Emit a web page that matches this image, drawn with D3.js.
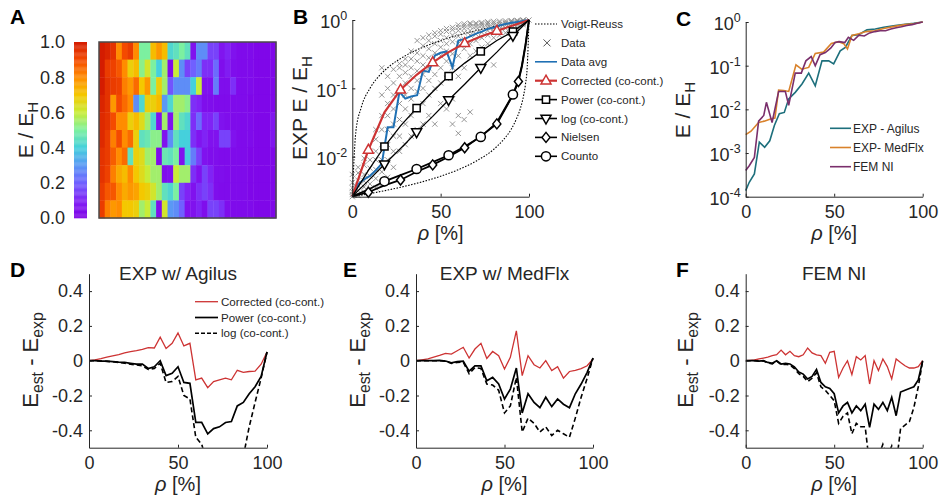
<!DOCTYPE html>
<html>
<head>
<meta charset="utf-8">
<script src="https://cdn.jsdelivr.net/npm/d3@7"></script>
<style>
  body { margin: 0; background: #fff; }
  svg text { font-family: "Liberation Sans", Arial, sans-serif; fill: #262626; }
</style>
</head>
<body>
<script>
// ---------- data ----------
var rhoCols = [0, 3.3, 6.7, 10, 13.3, 16.7, 20, 23.3, 26.7, 30, 33.3, 36.7, 40, 43.3, 46.7, 50,
  53.3, 56.7, 60, 63.3, 66.7, 70, 73.3, 76.7, 80, 83.3, 86.7, 90, 93.3, 96.7, 100];

// A: E / E_H per sample (rows) and column
var heat = [
  [1.0,0.98,0.95,0.8,0.9,0.93,0.8,0.5,0.5,0.72,0.78,0.72,0.42,0.45,0.5,0.45,0.05,0.28,0.28,0.15,0.15,0.06,0.1,0.05,0.03,0.03,0.03,0.02,0.02,0.02,0.02],
  [1.0,0.93,0.92,0.88,0.8,0.68,0.72,0.52,0.62,0.5,0.4,0.55,0.03,0.6,0.28,0.15,0.2,0.25,0.12,0.12,0.22,0.04,0.08,0.04,0.03,0.03,0.03,0.02,0.02,0.02,0.02],
  [1.0,0.95,0.93,0.92,0.82,0.78,0.85,0.7,0.78,0.5,0.68,0.55,0.18,0.28,0.28,0.28,0.4,0.6,0.05,0.05,0.25,0.04,0.04,0.12,0.03,0.03,0.03,0.02,0.02,0.02,0.02],
  [0.98,0.95,0.78,0.9,0.85,0.8,0.28,0.42,0.68,0.68,0.72,0.3,0.42,0.55,0.55,0.52,0.12,0.1,0.04,0.04,0.03,0.03,0.03,0.03,0.03,0.03,0.02,0.02,0.02,0.02,0.02],
  [0.97,0.95,0.9,0.8,0.8,0.68,0.72,0.65,0.55,0.42,0.05,0.55,0.05,0.55,0.45,0.42,0.12,0.22,0.1,0.1,0.15,0.05,0.04,0.03,0.03,0.03,0.03,0.02,0.02,0.02,0.06],
  [0.97,0.93,0.82,0.9,0.8,0.85,0.68,0.45,0.47,0.52,0.52,0.05,0.28,0.45,0.4,0.4,0.12,0.06,0.1,0.05,0.05,0.15,0.15,0.05,0.03,0.03,0.03,0.02,0.02,0.02,0.06],
  [0.95,0.93,0.87,0.8,0.85,0.45,0.68,0.65,0.55,0.55,0.03,0.47,0.45,0.5,0.05,0.4,0.25,0.15,0.05,0.04,0.04,0.03,0.03,0.03,0.03,0.03,0.02,0.02,0.02,0.02,0.02],
  [0.95,0.92,0.82,0.75,0.72,0.8,0.7,0.65,0.6,0.55,0.55,0.04,0.05,0.6,0.55,0.55,0.12,0.05,0.15,0.1,0.04,0.04,0.03,0.03,0.03,0.03,0.02,0.02,0.02,0.02,0.02],
  [0.93,0.88,0.88,0.8,0.75,0.78,0.76,0.7,0.68,0.62,0.55,0.45,0.42,0.5,0.15,0.1,0.05,0.12,0.15,0.12,0.04,0.03,0.03,0.03,0.03,0.03,0.02,0.02,0.02,0.02,0.02],
  [0.93,0.82,0.78,0.8,0.7,0.7,0.68,0.55,0.6,0.45,0.04,0.62,0.3,0.28,0.2,0.05,0.05,0.1,0.04,0.15,0.15,0.12,0.04,0.03,0.03,0.03,0.03,0.02,0.02,0.02,0.02]
];
var heatTicks = [0, 0.2, 0.4, 0.6, 0.8, 1.0];
var cmapStops = [0, 0.1, 0.2, 0.3, 0.4, 0.5, 0.6, 0.7, 0.8, 0.9, 1.0];
var cmapColors = ['#7f00e6', '#8023f5', '#7060ff', '#5a98f5', '#45d0dc', '#7cf0a0', '#c8ec38', '#f4c800', '#ff8c00', '#f44a00', '#d41c00'];

// B: measured samples (one list per rho), average, models, bounds
var dataE = [
  [0.0026,0.0028,0.0031,0.0035,0.0042,0.0055],
  [0.0027,0.0032,0.0038,0.0045,0.0058,0.007],
  [0.003,0.0036,0.0044,0.0055,0.0075,0.0095],
  [0.0032,0.004,0.0052,0.0068,0.009,0.012],
  [0.0035,0.0048,0.0065,0.009,0.012,0.018,0.025],
  [0.004,0.006,0.009,0.015,0.025,0.04,0.08,0.2],
  [0.005,0.009,0.015,0.025,0.04,0.06,0.1,0.15],
  [0.007,0.012,0.02,0.03,0.05,0.08,0.12,0.19],
  [0.012,0.02,0.035,0.06,0.09,0.15,0.2,0.23],
  [0.015,0.03,0.05,0.08,0.12,0.17,0.22,0.27],
  [0.02,0.04,0.07,0.1,0.15,0.2,0.27,0.35],
  [0.025,0.05,0.09,0.13,0.18,0.25,0.33,0.5],
  [0.03,0.06,0.1,0.16,0.22,0.3,0.42,0.55],
  [0.04,0.08,0.13,0.2,0.28,0.38,0.5,0.6],
  [0.03,0.1,0.16,0.24,0.33,0.45,0.58,0.65],
  [0.06,0.12,0.2,0.3,0.4,0.5,0.62,0.7],
  [0.05,0.14,0.25,0.35,0.45,0.55,0.68,0.75],
  [0.03,0.07,0.2,0.32,0.48,0.6,0.72,0.78],
  [0.022,0.04,0.15,0.3,0.45,0.58,0.7,0.78,0.85],
  [0.035,0.2,0.38,0.52,0.65,0.75,0.82,0.88],
  [0.045,0.3,0.45,0.6,0.7,0.8,0.86,0.9],
  [0.35,0.5,0.62,0.72,0.8,0.86,0.9],
  [0.4,0.55,0.66,0.75,0.83,0.88,0.92],
  [0.45,0.6,0.7,0.78,0.85,0.9,0.94],
  [0.22,0.55,0.68,0.76,0.84,0.9,0.95],
  [0.6,0.72,0.8,0.86,0.91,0.96],
  [0.65,0.76,0.84,0.89,0.93,0.97],
  [0.72,0.8,0.87,0.92,0.95,0.98],
  [0.78,0.85,0.9,0.94,0.97,0.99],
  [0.85,0.9,0.94,0.97,0.99,1.0],
  [1.0]
];
var avgE = [0.00263,0.00398,0.00468,0.00525,0.00631,0.00794,0.0269,0.0269,0.0891,0.0708,0.0759,0.0794,0.182,0.174,
  0.302,0.331,0.347,0.204,0.501,0.525,0.575,0.631,0.676,0.741,0.776,0.832,0.871,0.912,0.933,0.966,1];

var modelRho = [0, 9.1, 18.2, 27.3, 36.4, 45.5, 54.5, 63.6, 72.7, 81.8, 90.9, 100];
var corrE  = [0.00263,0.0126,0.0447,0.0955,0.158,0.240,0.339,0.457,0.575,0.692,0.832,1];
var powerE = [0.00263,0.00631,0.0141,0.0282,0.0513,0.0891,0.151,0.234,0.347,0.501,0.676,1];
var logE   = [0.00263,0.00447,0.00776,0.0132,0.0229,0.0389,0.0676,0.115,0.2,0.339,0.589,1];
var softRho  = [0, 9.1, 18.2, 27.3, 36.4, 45.5, 54.5, 63.6, 72.7, 81.8, 90.9, 94, 96, 98, 100];
var nielsenE = [0.00263,0.00302,0.0038,0.00457,0.00603,0.00759,0.01,0.0135,0.02,0.0302,0.0794,0.126,0.209,0.417,1];
var countoE  = [0.00263,0.00331,0.00437,0.00537,0.00661,0.00832,0.0105,0.0141,0.0195,0.0316,0.0813,0.132,0.219,0.437,1];

var voigtRho = [0, 2, 5, 10, 15, 20, 30, 40, 50, 60, 70, 80, 90, 100];
var voigtE   = [0.0026,0.023,0.052,0.10,0.15,0.2,0.3,0.4,0.5,0.6,0.7,0.8,0.9,1];
var reussRho = [0, 10, 20, 30, 40, 50, 60, 70, 80, 85, 90, 93, 95, 97, 98, 99, 100];
var reussE   = [0.0026,0.00289,0.00325,0.00371,0.00432,0.00518,0.00646,0.0086,0.0128,0.0171,0.0254,0.0364,0.0496,0.08,0.115,0.207,1];

// C
var agilusRho = [0,2,4.9,7.7,10.7,13.6,16.2,19,21.8,24.3,28,31.8,35.6,39.3,43.1,46.9,49.7,53.4,56.3,60,63.8,68.5,73.2,78,84.5,90,94.9,100];
var agilusE = [0.000138,0.000214,0.000331,0.00178,0.00135,0.00191,0.00427,0.00794,0.00851,0.0174,0.0245,0.038,0.0676,0.0347,
  0.129,0.129,0.110,0.219,0.263,0.490,0.513,0.661,0.692,0.759,0.832,0.891,0.933,1];
var medflxRho = [0,3,7.3,10.5,14,16.5,18.6,21.5,24.3,28.4,31.6,35.6,39.3,44,48.4,52.5,55.5,57.5,60,64,68,73,78,84,90,95,100];
var medflxE = [0.00263,0.00316,0.00501,0.00537,0.00603,0.00631,0.0275,0.0269,0.0257,0.105,0.0832,0.0912,0.191,0.204,
  0.324,0.355,0.316,0.240,0.490,0.537,0.603,0.631,0.708,0.794,0.871,0.912,1];
var femRho = [0,2,4.9,7.3,10.2,11.7,14.9,18.6,22.4,24.3,28,31.4,34,37,39.3,42,45,48,50.5,53,56,58,61,64,67,70,73,76,79,82,85,88,91,94,97,100];
var femE = [0.000398,0.000513,0.000794,0.00537,0.00724,0.0145,0.00501,0.0257,0.0257,0.0123,0.0676,0.0676,0.129,0.162,
  0.1,0.178,0.2,0.251,0.339,0.355,0.339,0.447,0.380,0.501,0.479,0.562,0.603,0.631,0.631,0.692,0.741,0.776,0.832,0.871,0.933,1];

// D, E, F: E_est - E_exp
var rhoF = [0,2.5,5,7.5,10,12.5,15,17.5,20,22.5,25,27.5,30,32.5,35,37.5,40,42.5,45,47.5,50,
  52.5,55,57.5,60,62.5,65,67.5,70,72.5,75,77.5,80,82.5,85,87.5,90,92.5,95,97.5,100];
var dCorr = [0,0.005,0.012,0.02,0.028,0.035,0.045,0.052,0.058,0.065,0.075,0.073,0.135,0.07,0.1,0.16,0.085,0.1,
  -0.11,-0.1,-0.155,-0.12,-0.11,-0.1,-0.11,-0.055,-0.067,-0.062,-0.06,-0.02,0.05];
var dPow = [0,0,-0.002,-0.003,-0.005,-0.008,-0.01,-0.015,-0.02,-0.02,-0.045,-0.035,0,-0.086,-0.073,-0.035,-0.125,-0.13,
  -0.355,-0.355,-0.42,-0.39,-0.38,-0.355,-0.35,-0.26,-0.24,-0.19,-0.15,-0.09,0.05];
var dLog = [0,0,-0.002,-0.004,-0.006,-0.01,-0.014,-0.02,-0.025,-0.03,-0.05,-0.045,-0.015,-0.125,-0.12,-0.09,-0.2,-0.22,
  -0.44,-0.48,-0.6,-0.7,-0.75,-0.75,-0.72,-0.65,-0.55,-0.38,-0.24,-0.1,0.05];
var eCorr = [0,0.005,0.01,0.02,0.03,0.042,0.038,0.057,0.077,0.015,0.067,0.1,0.013,0.053,0.029,-0.048,0.019,0.172,
  -0.086,0.029,-0.023,-0.042,0,-0.057,-0.035,-0.1,-0.062,-0.055,-0.045,-0.029,0.01];
var ePow = [0,0,0,0,0.002,-0.002,-0.012,-0.005,-0.003,-0.06,-0.03,-0.03,-0.115,-0.096,-0.134,-0.22,-0.163,-0.042,
  -0.3,-0.19,-0.24,-0.27,-0.21,-0.264,-0.22,-0.25,-0.27,-0.19,-0.134,-0.067,0.015];
var eLog = [0,0,0,0,0,-0.003,-0.015,-0.01,-0.008,-0.075,-0.04,-0.045,-0.134,-0.14,-0.17,-0.3,-0.26,-0.096,
  -0.41,-0.33,-0.36,-0.41,-0.38,-0.43,-0.40,-0.42,-0.44,-0.33,-0.21,-0.1,0.015];
var fCorr = [0,0.002,0.004,0.01,0.015,0.02,0.029,0.035,0.061,0.034,0.054,0.029,0.023,0.034,0.073,0.045,0.033,0.029,-0.015,0.048,
  0.054,-0.096,-0.042,0,-0.08,0.023,0.004,0.029,-0.134,0,-0.057,0.01,-0.034,-0.105,0.01,-0.01,-0.029,-0.042,-0.042,-0.034,0];
var fPow = [0,0,0,-0.002,0,-0.01,-0.015,0,-0.019,-0.015,-0.019,-0.035,-0.065,-0.077,-0.105,-0.09,-0.05,-0.125,-0.15,-0.16,
  -0.19,-0.3,-0.26,-0.24,-0.3,-0.26,-0.287,-0.25,-0.383,-0.25,-0.28,-0.24,-0.287,-0.21,-0.316,-0.18,-0.17,-0.16,-0.15,-0.11,0];
var fLog = [0,0,0,-0.002,-0.002,-0.012,-0.018,-0.003,-0.022,-0.02,-0.025,-0.045,-0.075,-0.09,-0.12,-0.1,-0.07,-0.15,-0.17,-0.2,
  -0.23,-0.36,-0.32,-0.3,-0.42,-0.36,-0.38,-0.38,-0.6,-0.5,-0.55,-0.48,-0.55,-0.49,-0.6,-0.39,-0.37,-0.35,-0.27,-0.15,0];

// ---------- drawing ----------
var ink = '#262626', red = '#cd3333', blue = '#1f70b4', grey = '#8a8a8a';
var teal = '#1d6f7c', orange = '#d9822b', plum = '#7a2f6c';

var svg = d3.select('body').append('svg').attr('width', 942).attr('height', 501);
var defs = svg.append('defs');

function letter(t, x, y) {
  svg.append('text').attr('x', x).attr('y', y).attr('font-size', 21).attr('font-weight', 'bold')
    .style('fill', '#000').text(t);
}
function tidy(g, fs) {
  g.attr('font-size', fs);
  g.selectAll('.domain').attr('stroke', ink);
  g.selectAll('.tick line').attr('stroke', ink);
  g.selectAll('.tick text').style('fill', ink);
}
function xAxis(x, yPos) {
  var g = svg.append('g').attr('transform', 'translate(0,' + yPos + ')')
    .call(d3.axisBottom(x).tickValues([0, 50, 100]).tickSize(-3).tickSizeOuter(0).tickPadding(9));
  tidy(g, 18);
}
function xLabel(x, yPos) {
  var r = x.range();
  var t = svg.append('text').attr('x', (r[0] + r[1]) / 2).attr('y', yPos).attr('text-anchor', 'middle').attr('font-size', 20);
  t.append('tspan').attr('font-style', 'italic').text('ρ');
  t.append('tspan').text(' [%]');
}
function yLabel(x, y, parts, fs) {
  var t = svg.append('text').attr('transform', 'translate(' + x + ',' + y + ') rotate(-90)')
    .attr('text-anchor', 'middle').attr('font-size', fs);
  parts.forEach(function (p) {
    var s = t.append('tspan').text(p[0]);
    if (p[1]) s.attr('font-size', fs * 0.72).attr('dy', 5);
    if (p[2]) s.attr('dy', -5);
  });
}
function logAxis(y, xPos, vals) {
  var g = svg.append('g').attr('transform', 'translate(' + xPos + ',0)')
    .call(d3.axisLeft(y).tickValues(vals).tickSize(-3).tickSizeOuter(0).tickFormat(''));
  tidy(g, 18);
  vals.forEach(function (v) {
    var t = g.append('text').attr('x', -5).attr('y', y(v) + 2).attr('dy', '0.35em')
      .attr('text-anchor', 'end').attr('font-size', 18);
    t.append('tspan').text('10');
    t.append('tspan').attr('dy', -8).attr('font-size', 12.5).text(String(Math.round(Math.log10(v))));
  });
}
function clip(id, x, y, w, h) {
  defs.append('clipPath').attr('id', id).append('rect').attr('x', x).attr('y', y).attr('width', w).attr('height', h);
  return svg.append('g').attr('clip-path', 'url(#' + id + ')');
}
function zip(a, b) { return a.map(function (v, i) { return [v, b[i]]; }); }

// ---------- A ----------
var color = d3.scaleLinear().domain(cmapStops).range(cmapColors).clamp(true);
var hx = d3.scaleBand().domain(d3.range(heat[0].length)).range([99, 276]);
var hy = d3.scaleBand().domain(d3.range(heat.length)).range([42, 218]);
heat.forEach(function (row, r) {
  svg.selectAll(null).data(row).enter().append('rect')
    .attr('x', function (d, c) { return hx(c); })
    .attr('y', hy(r))
    .attr('width', hx.bandwidth() + 0.4)
    .attr('height', hy.bandwidth() + 0.4)
    .attr('fill', function (d) { return color(d); });
});
svg.append('rect').attr('x', 99).attr('y', 42).attr('width', 177).attr('height', 176)
  .attr('fill', 'none').attr('stroke', '#4a4a4a').attr('stroke-width', 1.5);

var cbY = d3.scaleLinear().domain([0, 1]).range([218, 42]);
svg.selectAll(null).data(d3.range(0, 1, 0.005)).enter().append('rect')
  .attr('x', 74).attr('width', 13)
  .attr('y', function (d) { return cbY(d + 0.005); })
  .attr('height', Math.abs(cbY(0) - cbY(0.005)) + 0.3)
  .attr('fill', function (d) { return color(d + 0.0025); });
svg.selectAll(null).data(heatTicks).enter().append('text')
  .attr('x', 65).attr('y', function (d) { return cbY(d); }).attr('dy', '0.35em')
  .attr('text-anchor', 'end').attr('font-size', 18)
  .text(function (d) { return d.toFixed(1); });
yLabel(33, 130, [['E / E'], ['H', true]], 21);
letter('A', 10, 24);

// ---------- B ----------
var bx = d3.scaleLinear().domain([0, 100]).range([352.3, 529]);
var by = d3.scaleLog().domain([0.0026, 1]).range([196.7, 20]);
var bl = d3.line().x(function (d) { return bx(d[0]); }).y(function (d) { return by(d[1]); });
var gB = clip('clipB', 340, 10, 200, 195);

// bounds
gB.append('path').datum(zip(voigtRho, voigtE)).attr('d', bl.curve(d3.curveMonotoneX))
  .attr('fill', 'none').attr('stroke', '#000').attr('stroke-width', 1.1).attr('stroke-dasharray', '1.5,1.5');
gB.append('path').datum(zip(reussRho, reussE)).attr('d', bl)
  .attr('fill', 'none').attr('stroke', '#000').attr('stroke-width', 1.1).attr('stroke-dasharray', '1.5,1.5');
bl.curve(d3.curveLinear);

// samples
var pts = [];
dataE.forEach(function (col, i) { col.forEach(function (v) { pts.push([rhoCols[i], v]); }); });
gB.selectAll(null).data(pts).enter().append('path')
  .attr('transform', function (d) { return 'translate(' + bx(d[0]) + ',' + by(d[1]) + ')'; })
  .attr('d', 'M-2.6,-2.6L2.6,2.6M-2.6,2.6L2.6,-2.6')
  .attr('fill', 'none').attr('stroke', grey).attr('stroke-width', 0.9);

gB.append('path').datum(zip(rhoCols, avgE)).attr('d', bl)
  .attr('fill', 'none').attr('stroke', blue).attr('stroke-width', 2);

var models = [
  { rho: modelRho, E: corrE, c: red, w: 2.2, sym: 'tri', off: 1 },
  { rho: modelRho, E: powerE, c: '#000', w: 1.3, sym: 'sq', off: 0 },
  { rho: modelRho, E: logE, c: '#000', w: 1.3, sym: 'tdown', off: 0 },
  { rho: softRho, E: nielsenE, c: '#000', w: 1.8, sym: 'dia', off: 1 },
  { rho: softRho, E: countoE, c: '#000', w: 1.8, sym: 'circ', off: 0 }
];
function marker(g, sym, x, y, c) {
  var p;
  if (sym === 'circ') { g.append('circle').attr('cx', x).attr('cy', y).attr('r', 4.6).attr('fill', '#fff').attr('stroke', c).attr('stroke-width', 1.5); return; }
  if (sym === 'sq') p = 'M-3.6,-3.6H3.6V3.6H-3.6Z';
  if (sym === 'tri') p = 'M0,-5.5L5,3.3H-5Z';
  if (sym === 'tdown') p = 'M0,5.5L5,-3.3H-5Z';
  if (sym === 'dia') p = 'M0,-5L4,0L0,5L-4,0Z';
  g.append('path').attr('d', p).attr('transform', 'translate(' + x + ',' + y + ')')
    .attr('fill', '#fff').attr('stroke', c).attr('stroke-width', 1.5);
}
models.forEach(function (m) {
  var d = zip(m.rho, m.E);
  gB.append('path').datum(d).attr('d', bl).attr('fill', 'none').attr('stroke', m.c).attr('stroke-width', m.w);
});
models.forEach(function (m) {
  m.rho.forEach(function (r, i) {
    if (i % 2 === m.off && r > 0 && r < 95) marker(gB, m.sym, bx(r), by(m.E[i]), m.c);
  });
});

xAxis(bx, 196.7);
logAxis(by, 352.3, [0.01, 0.1, 1]);
xLabel(bx, 240);
yLabel(307, 108, [['EXP E / E'], ['H', true]], 21);
letter('B', 293, 24);

// legend B
var legB = [
  { t: 'Voigt-Reuss', k: 'dot' }, { t: 'Data', k: 'x' }, { t: 'Data avg', k: 'avg' },
  { t: 'Corrected (co-cont.)', k: 'tri' }, { t: 'Power (co-cont.)', k: 'sq' },
  { t: 'log (co-cont.)', k: 'tdown' }, { t: 'Nielsen', k: 'dia' }, { t: 'Counto', k: 'circ' }
];
legB.forEach(function (e, i) {
  var y = 24 + i * 18.9;
  if (e.k === 'dot') svg.append('line').attr('x1', 535).attr('x2', 557).attr('y1', y).attr('y2', y)
    .attr('stroke', '#000').attr('stroke-width', 1.1).attr('stroke-dasharray', '1.5,1.5');
  else if (e.k === 'x') svg.append('path').attr('d', 'M-3.5,-3.5L3.5,3.5M-3.5,3.5L3.5,-3.5')
    .attr('transform', 'translate(547,' + y + ')').attr('stroke', '#555').attr('stroke-width', 1);
  else {
    var c = e.k === 'tri' ? red : (e.k === 'avg' ? blue : '#000');
    svg.append('line').attr('x1', 535).attr('x2', 557).attr('y1', y).attr('y2', y)
      .attr('stroke', c).attr('stroke-width', e.k === 'tri' ? 2.2 : 1.6);
    if (e.k !== 'avg') marker(svg, e.k, 546, y, c);
  }
  svg.append('text').attr('x', 561).attr('y', y).attr('dy', '0.35em')
    .attr('font-size', 11.5).text(e.t);
});

// ---------- C ----------
var cx = d3.scaleLinear().domain([0, 100]).range([745.7, 922.7]);
var cy = d3.scaleLog().domain([1e-4, 1]).range([196.7, 22]);
var cl = d3.line().x(function (d) { return cx(d[0]); }).y(function (d) { return cy(d[1]); });
var gC = clip('clipC', 740, 10, 190, 192);
[[agilusRho, agilusE, teal], [medflxRho, medflxE, orange], [femRho, femE, plum]].forEach(function (s) {
  gC.append('path').datum(zip(s[0], s[1])).attr('d', cl).attr('fill', 'none')
    .attr('stroke', s[2]).attr('stroke-width', 1.6);
});
xAxis(cx, 196.7);
logAxis(cy, 745.7, [1e-4, 1e-3, 1e-2, 1e-1, 1]);
xLabel(cx, 240);
yLabel(690, 110, [['E / E'], ['H', true]], 21);
letter('C', 676, 26);
[['EXP - Agilus', teal], ['EXP- MedFlx', orange], ['FEM NI', plum]].forEach(function (e, i) {
  var y = 128.3 + i * 19.2;
  svg.append('line').attr('x1', 830).attr('x2', 851).attr('y1', y).attr('y2', y)
    .attr('stroke', e[1]).attr('stroke-width', 1.6);
  svg.append('text').attr('x', 853).attr('y', y).attr('dy', '0.35em').attr('font-size', 12).text(e[0]);
});

// ---------- D, E, F ----------
var dy = d3.scaleLinear().domain([-0.5, 0.5]).range([447.7, 273.7]);
function diffPanel(x0, x1, id, rho, corr, pow, lg, title) {
  var x = d3.scaleLinear().domain([0, 100]).range([x0, x1]);
  var ln = d3.line().x(function (d) { return x(d[0]); }).y(function (d) { return dy(d[1]); });
  var g = clip(id, x0, 265, x1 - x0 + 4, dy(-0.5) - 265);
  g.append('path').datum(zip(rho, corr)).attr('d', ln).attr('fill', 'none').attr('stroke', red).attr('stroke-width', 1.3);
  g.append('path').datum(zip(rho, pow)).attr('d', ln).attr('fill', 'none').attr('stroke', '#000').attr('stroke-width', 1.7);
  g.append('path').datum(zip(rho, lg)).attr('d', ln).attr('fill', 'none').attr('stroke', '#000')
    .attr('stroke-width', 1.6).attr('stroke-dasharray', '5,3');
  xAxis(x, dy(-0.5));
  var ga = svg.append('g').attr('transform', 'translate(' + x0 + ',0)')
    .call(d3.axisLeft(dy).tickValues([-0.4, -0.2, 0, 0.2, 0.4]).tickSize(-3).tickSizeOuter(0).tickPadding(6)
      .tickFormat(function (d) { return d === 0 ? '0' : d.toFixed(1); }));
  tidy(ga, 18);
  xLabel(x, 491);
  svg.append('text').attr('x', (x0 + x1) / 2).attr('y', 280).attr('text-anchor', 'middle')
    .attr('font-size', 19).text(title);
}
diffPanel(89, 267, 'clipD', rhoCols, dCorr, dPow, dLog, 'EXP w/ Agilus');
diffPanel(416, 593, 'clipE', rhoCols, eCorr, ePow, eLog, 'EXP w/ MedFlx');
diffPanel(745.7, 922.7, 'clipF', rhoF, fCorr, fPow, fLog, 'FEM NI');
yLabel(38, 360, [['E'], ['est', true], [' - E', false, true], ['exp', true]], 22);
yLabel(365, 360, [['E'], ['est', true], [' - E', false, true], ['exp', true]], 22);
yLabel(693, 360, [['E'], ['est', true], [' - E', false, true], ['exp', true]], 22);
letter('D', 10, 277);
letter('E', 343, 277);
letter('F', 676, 277);

// legend D
[['Corrected (co-cont.)', red, null, 1.3], ['Power (co-cont.)', '#000', null, 1.7], ['log (co-cont.)', '#000', '4,2', 1.6]]
  .forEach(function (e, i) {
    var y = 301.7 + i * 15.8;
    var l = svg.append('line').attr('x1', 195).attr('x2', 218).attr('y1', y).attr('y2', y)
      .attr('stroke', e[1]).attr('stroke-width', e[3]);
    if (e[2]) l.attr('stroke-dasharray', e[2]);
    svg.append('text').attr('x', 221).attr('y', y).attr('dy', '0.35em').attr('font-size', 11.6).text(e[0]);
  });
</script>
</body>
</html>
